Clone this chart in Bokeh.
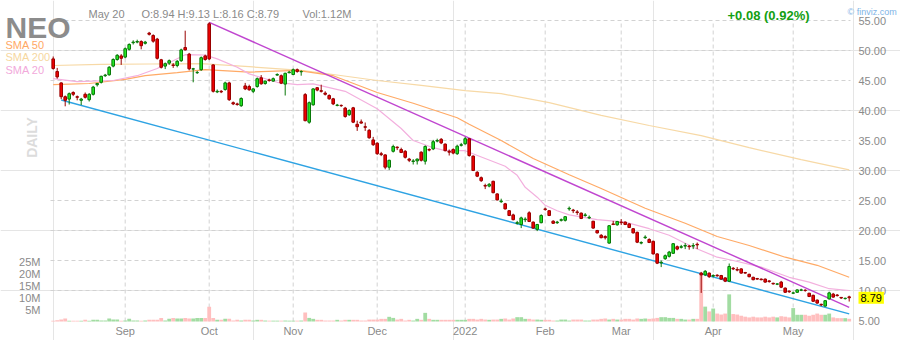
import math
from bokeh.plotting import figure
from bokeh.models import Range1d, LinearAxis, FixedTicker, Label, ColumnDataSource, PrintfTickFormatter
from bokeh.embed import file_html
from bokeh.resources import INLINE

ticker_name = "NEO"
last_date = "May 20"

# trading-day index 0 = Aug 6 2021 ... 199 = May 20 2022
month_ticks = [18, 39, 60, 81, 103, 123, 142, 165, 185]
month_labels = ["Sep", "Oct", "Nov", "Dec", "2022", "Feb", "Mar", "Apr", "May"]

opens = [
    48.6, 46.5, 44.6, 42.3, 41.9, 43.0, 42.3, 41.7, 42.7, 41.8,
    42.7, 44.3, 44.7, 45.8, 45.95, 47.4, 48.5, 49.1, 48.9, 50.2,
    51.3, 51.4, 51.5, 51.2, 52.9, 52.5, 51.9, 48.45, 47.4, 47.9,
    47.6, 47.5, 48.3, 50.5, 49.4, 46.9, 46.3, 46.8, 49.1, 54.45,
    47.6, 43.1, 43.2, 43.5, 44.6, 41.3, 41.1, 40.8, 44.1, 44.0,
    43.2, 44.0, 45.45, 44.5, 45.1, 44.9, 45.9, 45.8, 44.4, 46.3,
    46.0, 46.8, 46.45, 42.65, 38.05, 40.95, 43.8, 43.3, 42.9, 42.5,
    41.95, 40.85, 40.85, 40.4, 39.3, 40.45, 37.7, 38.1, 37.3, 36.7,
    35.1, 34.55, 32.8, 32.6, 30.55, 33.2, 33.9, 33.5, 33.2, 31.9,
    31.5, 31.6, 33.05, 31.55, 33.5, 33.6, 34.9, 35.2, 34.4, 33.2,
    33.5, 32.8, 34.2, 34.45, 35.3, 32.4, 29.7, 28.8, 27.5, 27.4,
    28.2, 26.1, 24.8, 24.45, 23.3, 22.6, 21.2, 21.0, 21.8, 22.95,
    21.4, 20.2, 21.3, 23.6, 23.3, 21.55, 21.3, 21.7, 21.7, 23.6,
    23.4, 23.1, 22.9, 22.5, 22.1, 21.55, 20.0, 19.2, 19.0, 17.9,
    21.1, 20.95, 21.4, 21.4, 21.1, 20.3, 19.7, 17.9, 18.8, 18.5,
    18.2, 16.1, 14.6, 15.3, 15.7, 16.2, 17.3, 17.2, 17.4, 17.4,
    17.4, 17.7, 12.9, 12.6, 12.9, 12.4, 12.55, 12.5, 12.1, 11.55,
    13.7, 13.5, 13.6, 13.0, 12.7, 12.2, 12.0, 11.9, 11.9, 11.6,
    11.2, 11.05, 11.4, 10.4, 9.9, 9.55, 9.7, 10.05, 10.05, 9.55,
    9.2, 8.4, 7.7, 7.4, 8.6, 9.4, 9.25, 8.85, 8.65, 8.94,
]
highs = [
    49.0, 47.1, 44.7, 42.5, 43.0, 43.2, 42.5, 42.1, 43.0, 42.9,
    44.1, 44.6, 45.8, 46.1, 47.4, 48.7, 49.4, 49.4, 50.5, 51.2,
    51.7, 51.8, 51.7, 51.6, 53.1, 52.7, 52.1, 48.6, 48.0, 48.5,
    47.9, 48.4, 50.3, 53.3, 49.6, 47.1, 46.6, 49.0, 49.3, 54.7,
    47.7, 43.5, 43.4, 44.8, 44.8, 41.5, 41.3, 42.2, 44.6, 44.3,
    43.7, 45.5, 45.9, 45.0, 45.3, 45.5, 46.2, 46.0, 46.3, 46.6,
    47.0, 47.0, 46.7, 42.9, 41.5, 43.7, 43.9, 44.3, 43.2, 42.7,
    42.1, 41.1, 41.0, 40.6, 40.2, 40.6, 38.3, 38.5, 38.0, 36.9,
    35.6, 34.7, 33.1, 32.7, 31.8, 34.3, 34.0, 33.8, 33.4, 32.1,
    31.9, 32.0, 33.2, 34.2, 33.7, 35.1, 35.3, 35.4, 34.5, 33.5,
    33.7, 34.3, 34.6, 35.6, 35.4, 32.5, 29.9, 29.0, 27.8, 27.9,
    28.3, 26.2, 25.3, 24.6, 23.4, 22.8, 21.6, 22.3, 22.2, 23.2,
    21.5, 21.1, 22.7, 23.8, 23.4, 21.7, 21.6, 22.0, 22.4, 24.0,
    23.6, 23.4, 23.0, 22.9, 22.5, 21.6, 20.1, 19.4, 19.2, 20.9,
    21.6, 21.6, 21.9, 21.5, 21.2, 20.4, 19.8, 18.2, 19.2, 18.7,
    18.3, 16.2, 15.0, 16.0, 16.6, 17.9, 17.5, 17.6, 17.9, 17.6,
    17.9, 18.0, 13.1, 13.4, 13.0, 12.7, 12.7, 12.6, 12.2, 14.5,
    13.9, 13.9, 13.7, 13.1, 12.8, 12.3, 12.1, 12.0, 12.0, 11.7,
    11.3, 11.2, 11.6, 10.5, 10.0, 9.8, 10.2, 10.3, 10.2, 9.6,
    9.3, 8.5, 7.8, 8.4, 9.8, 9.6, 9.4, 8.9, 8.8, 9.13,
]
lows = [
    46.8, 45.3, 41.9, 40.7, 41.0, 42.4, 41.7, 40.9, 42.0, 41.5,
    42.5, 44.0, 44.5, 45.6, 45.8, 47.2, 48.3, 47.6, 48.7, 50.0,
    51.0, 51.2, 50.2, 51.0, 52.5, 51.3, 48.5, 47.0, 46.9, 47.6,
    47.1, 47.2, 48.1, 50.0, 46.7, 44.7, 46.1, 46.6, 48.3, 48.4,
    43.0, 42.9, 42.9, 43.3, 41.6, 40.9, 40.8, 40.6, 43.4, 43.3,
    42.9, 43.8, 44.3, 44.3, 44.8, 44.8, 45.8, 44.4, 42.5, 46.2,
    45.9, 46.3, 45.8, 38.2, 37.8, 40.8, 43.2, 43.0, 42.5, 41.8,
    40.9, 40.7, 40.6, 38.8, 39.1, 37.9, 36.6, 37.8, 36.6, 35.3,
    34.1, 32.6, 32.4, 30.2, 30.1, 33.0, 33.4, 32.9, 32.0, 31.4,
    31.0, 31.0, 31.5, 31.0, 33.2, 33.4, 34.7, 34.4, 33.2, 32.5,
    32.7, 32.6, 34.0, 34.3, 32.3, 29.9, 28.9, 28.1, 26.9, 27.2,
    26.2, 25.0, 24.6, 23.5, 22.4, 21.7, 21.0, 20.4, 21.4, 21.4,
    20.3, 19.9, 21.2, 23.3, 22.4, 21.1, 21.1, 21.5, 21.5, 23.3,
    22.9, 22.6, 21.9, 22.3, 21.9, 20.3, 19.5, 18.7, 18.5, 17.8,
    20.9, 20.8, 20.9, 20.9, 20.4, 19.5, 17.9, 17.7, 18.6, 17.9,
    16.0, 14.4, 13.9, 15.1, 15.5, 16.1, 16.7, 17.0, 16.9, 16.8,
    16.9, 16.9, 9.6, 12.4, 12.1, 12.2, 12.3, 11.8, 11.4, 11.4,
    13.4, 13.2, 12.8, 12.8, 12.2, 11.7, 11.8, 11.7, 11.3, 11.3,
    11.0, 10.9, 10.4, 9.6, 9.6, 9.4, 9.6, 9.9, 9.8, 8.9,
    8.1, 7.8, 7.4, 7.3, 8.5, 8.8, 9.0, 8.6, 8.5, 8.16,
]
closes = [
    47.0, 45.6, 42.3, 41.7, 42.8, 42.7, 42.2, 41.9, 42.2, 42.7,
    43.9, 44.5, 45.7, 45.9, 47.2, 48.5, 49.2, 48.7, 50.3, 51.0,
    51.4, 51.5, 50.8, 51.4, 52.7, 51.55, 48.7, 47.2, 47.8, 48.3,
    47.5, 48.2, 50.1, 50.1, 46.95, 46.95, 46.35, 48.8, 48.5, 48.6,
    43.2, 43.2, 43.1, 44.6, 41.8, 41.1, 41.0, 42.0, 43.6, 43.45,
    43.6, 45.3, 44.45, 44.9, 45.0, 45.3, 46.0, 44.55, 46.2, 46.4,
    46.8, 46.5, 46.5, 38.3, 41.3, 43.6, 43.4, 43.2, 42.7, 41.95,
    41.1, 40.9, 40.8, 39.0, 40.0, 38.05, 37.3, 37.9, 37.2, 35.45,
    34.3, 32.8, 32.65, 30.55, 31.7, 34.0, 33.8, 33.0, 32.2, 31.7,
    31.6, 31.9, 31.7, 34.0, 33.4, 34.8, 35.0, 34.6, 33.3, 33.05,
    32.9, 34.05, 34.3, 35.3, 32.5, 30.0, 29.05, 28.3, 27.4, 27.7,
    26.3, 25.1, 24.9, 23.6, 22.5, 21.8, 21.3, 22.1, 21.9, 21.5,
    20.4, 21.0, 22.5, 23.5, 22.5, 21.2, 21.4, 21.8, 22.3, 23.7,
    23.3, 23.0, 22.0, 22.6, 22.2, 20.4, 19.6, 18.8, 18.8, 20.8,
    21.0, 21.5, 21.3, 21.0, 20.5, 19.6, 18.05, 18.0, 18.9, 18.0,
    16.1, 14.55, 14.7, 15.8, 16.4, 17.8, 16.9, 17.3, 17.5, 17.3,
    17.5, 17.6, 12.6, 13.2, 12.3, 12.5, 12.45, 11.9, 11.55, 14.0,
    13.6, 13.4, 12.9, 12.9, 12.3, 11.8, 11.9, 11.8, 11.4, 11.5,
    11.1, 11.1, 10.55, 9.7, 9.8, 9.6, 10.1, 10.1, 10.0, 9.0,
    8.2, 7.9, 7.6, 8.3, 9.6, 8.9, 9.15, 8.75, 8.71, 8.79,
]
volumes_m = [
    0.3, 0.55, 0.8, 1.25, 0.3, 0.3, 0.3, 0.3, 0.7, 0.3,
    0.7, 0.7, 0.4, 0.4, 1.25, 0.8, 0.8, 0.3, 0.4, 1.1,
    0.4, 0.4, 0.3, 0.4, 0.7, 0.7, 0.7, 1.5, 0.4, 1.1,
    1.5, 1.25, 1.25, 1.5, 1.25, 1.25, 1.5, 1.5, 1.5, 6.1,
    1.5, 0.7, 0.7, 1.1, 1.1, 0.4, 0.7, 0.4, 0.7, 0.7,
    0.4, 0.7, 0.7, 0.4, 0.35, 0.35, 0.35, 0.35, 0.4, 0.35,
    0.35, 0.35, 0.4, 3.75, 1.5, 1.1, 0.7, 0.7, 0.4, 0.4,
    0.4, 0.7, 0.4, 0.7, 0.7, 0.7, 0.7, 0.4, 0.4, 0.8,
    0.8, 0.8, 1.1, 1.1, 1.95, 1.5, 0.8, 1.1, 0.4, 0.7,
    0.4, 1.1, 0.7, 3.6, 1.1, 0.7, 0.7, 0.7, 0.7, 0.7,
    0.7, 0.7, 0.7, 0.7, 1.1, 1.1, 0.8, 1.1, 0.8, 0.7,
    0.8, 0.8, 1.1, 1.25, 0.8, 1.25, 1.8, 1.8, 1.1, 1.1,
    0.8, 0.8, 0.7, 0.7, 0.7, 0.4, 0.4, 0.8, 0.8, 0.4,
    0.8, 0.8, 0.8, 0.4, 0.4, 0.8, 0.8, 1.1, 1.25, 0.8,
    1.1, 0.8, 0.8, 1.1, 1.1, 0.8, 1.25, 1.1, 1.25, 1.1,
    1.25, 1.5, 1.8, 1.8, 1.5, 1.5, 1.1, 1.1, 0.8, 0.8,
    1.1, 1.1, 19.5, 6.2, 4.2, 5.4, 3.3, 2.9, 3.3, 11.3,
    3.1, 2.9, 2.4, 2.0, 1.7, 2.0, 1.7, 1.7, 2.0, 1.7,
    2.0, 1.7, 2.2, 2.0, 1.7, 5.6, 2.8, 2.8, 2.8, 2.4,
    2.8, 3.3, 2.8, 2.8, 3.3, 1.7, 1.4, 1.4, 1.4, 1.12,
]

sma20_idx = [0, 6, 15, 21, 26, 30, 33, 38, 41, 46, 49, 56, 61, 65, 73, 81, 87, 90, 95, 98,
             103, 108, 113, 116, 118, 121, 123, 126, 129, 136, 143, 149, 154, 160, 166, 170,
             177, 184, 189, 194, 199]
sma20_val = [45.3, 44.8, 45.0, 45.8, 47.0, 48.3, 49.3, 49.25, 48.6, 47.2, 46.1, 44.7, 44.3, 44.45,
             43.2, 40.3, 37.0, 35.0, 33.8, 33.3, 33.3, 32.0, 30.7, 29.2, 27.2, 25.55, 24.2, 23.3,
             22.6, 21.8, 21.4, 20.3, 19.2, 17.2, 15.55, 15.0, 13.9, 12.2, 11.4, 10.3, 10.0]
sma50_idx = [0, 9, 18, 23, 31, 38, 49, 61, 70, 81, 90, 101, 104, 112, 120, 129, 137, 148, 158,
             166, 174, 183, 191, 199]
sma50_val = [44.3, 44.5, 45.2, 45.8, 46.3, 46.8, 46.4, 46.7, 45.8, 43.0, 41.2, 38.8, 37.7, 35.0,
             32.0, 29.3, 27.0, 23.7, 21.2, 19.0, 17.5, 15.55, 14.2, 12.2]
sma200_idx = [0, 12, 24, 37, 49, 62, 70, 81, 92, 103, 112, 124, 137, 149, 162, 174, 187, 199]
sma200_val = [47.5, 47.7, 47.75, 47.8, 47.3, 46.7, 46.0, 45.0, 44.2, 43.3, 42.8, 41.3, 39.2, 37.5,
              35.8, 33.8, 31.8, 30.1]

upper_trend_idx = [39, 199]
upper_trend_val = [54.7, 7.2]
lower_trend_idx = [2, 199]
lower_trend_val = [41.75, 6.1]

price_ticks = [5, 10, 15, 20, 25, 30, 35, 40, 45, 50, 55]
price_grid = [10, 15, 20, 25, 30, 35, 40, 45, 50, 55]
vol_ticks = [5, 10, 15, 20, 25]

FONT = "Liberation Sans"
GRAY = "#8a8a8a"
W, H = 900, 340
PX_PER_DAY = 4                # 4 px per trading day
PX_PER_USD = 6                # 6 px per dollar
PX_PER_MVOL = 2.4             # 2.4 px per million shares
FL, FR, FT, FB = 50, 850, 20, 321   # chart panel edges in canvas pixels
X_FIRST = 52.7                # canvas x of first candle

# the figure's frame covers the whole canvas; the chart panel is drawn inside it
x_lo = (0 - X_FIRST) / PX_PER_DAY
x_hi = (W - X_FIRST) / PX_PER_DAY
pan_x0 = (FL - X_FIRST) / PX_PER_DAY
pan_x1 = (FR - X_FIRST) / PX_PER_DAY
top_price = 55
y_hi = top_price + FT / PX_PER_USD
y_lo = top_price - (H - FT) / PX_PER_USD
pan_y1 = top_price
pan_y0 = top_price - (FB - FT) / PX_PER_USD

n = len(closes)
idx = list(range(n))
up = [c >= o for o, c in zip(opens, closes)]
src = ColumnDataSource(dict(
    x=idx, o=opens, h=highs, l=lows, c=closes, v=volumes_m,
    top=[max(o, c) for o, c in zip(opens, closes)],
    bot=[min(o, c) for o, c in zip(opens, closes)],
    fill=["#22e622" if u else "#ee0000" for u in up],
    edge=["#087808" if u else "#990000" for u in up],
    vcol=["#a2dca2" if u else "#ffbfbf" for u in up],
))

p = figure(width=W, height=H, output_backend="svg", toolbar_location=None,
           x_range=Range1d(x_lo, x_hi), y_range=Range1d(y_lo, y_hi),
           x_axis_location=None, y_axis_location=None,
           min_border=0, min_border_left=0, min_border_right=0, min_border_top=0, min_border_bottom=0)
p.outline_line_color = None
p.background_fill_color = "white"
p.border_fill_color = "white"
p.extra_y_ranges = {"vol": Range1d(-(H - FB) / PX_PER_MVOL, FB / PX_PER_MVOL)}

xaxis = LinearAxis(ticker=FixedTicker(ticks=month_ticks),
                   major_label_overrides={t: s for t, s in zip(month_ticks, month_labels)},
                   fixed_location=pan_y0)
yaxis = LinearAxis(ticker=FixedTicker(ticks=price_ticks), formatter=PrintfTickFormatter(format="%.2f"),
                   fixed_location=pan_x1)
vaxis = LinearAxis(y_range_name="vol", ticker=FixedTicker(ticks=vol_ticks),
                   major_label_overrides={t: f"{t}M" for t in vol_ticks}, fixed_location=pan_x0)
for ax, stand in ((xaxis, 3), (yaxis, 8), (vaxis, 10)):
    ax.axis_line_color = None
    ax.major_tick_line_color = None
    ax.minor_tick_line_color = None
    ax.major_tick_out = 0
    ax.major_tick_in = 0
    ax.major_label_text_color = GRAY
    ax.major_label_text_font = FONT
    ax.major_label_text_font_size = "11px"
    ax.major_label_standoff = stand
p.add_layout(xaxis, "below")
p.add_layout(yaxis, "right")
p.add_layout(vaxis, "left")

# dashed grid, limited to the chart panel
p.segment(x0=month_ticks, x1=month_ticks, y0=[pan_y0] * len(month_ticks), y1=[pan_y1] * len(month_ticks),
          line_color="#d2d2d2", line_dash="4 3", line_width=1)
p.segment(x0=[pan_x0] * len(price_grid), x1=[pan_x1] * len(price_grid), y0=price_grid, y1=price_grid,
          line_color="#d2d2d2", line_dash="4 3", line_width=1)

p.vbar(x="x", top="v", bottom=0, width=0.95, source=src, y_range_name="vol",
       fill_color="vcol", line_color=None)

p.line(sma200_idx, sma200_val, line_color="#f7d9a6", line_width=1.2)
p.line(sma50_idx, sma50_val, line_color="#ffaa66", line_width=1.2)
p.line(sma20_idx, sma20_val, line_color="#f3b0de", line_width=1.2)

p.line(upper_trend_idx, upper_trend_val, line_color="#c046d0", line_width=1.4)
p.line(lower_trend_idx, lower_trend_val, line_color="#2ea3e3", line_width=1.4)

p.segment(x0="x", y0="l", x1="x", y1="h", source=src, line_color="edge", line_width=1)
p.vbar(x="x", top="top", bottom="bot", width=0.65, source=src, fill_color="fill",
       line_color="edge", line_width=1)


def lab(px, py, text, **kw):
    # px, py: canvas pixels from top-left (frame == canvas)
    base = dict(x=px, y=H - py, x_units="screen", y_units="screen", text=text,
                text_font=FONT, text_font_size="11px", text_color=GRAY, text_baseline="alphabetic")
    base.update(kw)
    p.add_layout(Label(**base))


lab(5, 27, ticker_name, text_font_size="30px", text_font_style="bold", text_color="#8c8c8c")
lab(88, 13, last_date)
lab(141, 13, f"O:{opens[-1]:.2f}  H:{highs[-1]:.2f}  L:{lows[-1]:.2f}  C:{closes[-1]:.2f}")
lab(302, 13, f"Vol:{volumes_m[-1]:.2f}M")
chg = closes[-1] - closes[-2]
lab(727, 15, f"{chg:+.2f} ({chg / closes[-2] * 100:.2f}%)", text_font_size="13px",
    text_font_style="bold", text_color="#13a013")
lab(847, 11, "\u00a9 finviz.com", text_font_size="9px", text_color="#80b4e6")
lab(5, 44, "SMA 50", text_color="#ffa865", text_baseline="middle")
lab(5, 56.5, "SMA 200", text_color="#f6d7a0", text_baseline="middle")
lab(5, 69, "SMA 20", text_color="#f2a9db", text_baseline="middle")
lab(31, 137, "DAILY", text_font_size="14px", text_font_style="bold", text_color="#dcdcdc",
    text_align="center", text_baseline="middle", angle=math.pi / 2)

p.add_layout(Label(x=FR + 8, y=closes[-1], x_units="screen", y_units="data", text=f"{closes[-1]:.2f}",
                   text_font=FONT, text_font_size="11px", text_color="black",
                   text_baseline="middle", background_fill_color="#ffff00", padding=2))

open("out.html", "w").write(file_html(p, INLINE))
